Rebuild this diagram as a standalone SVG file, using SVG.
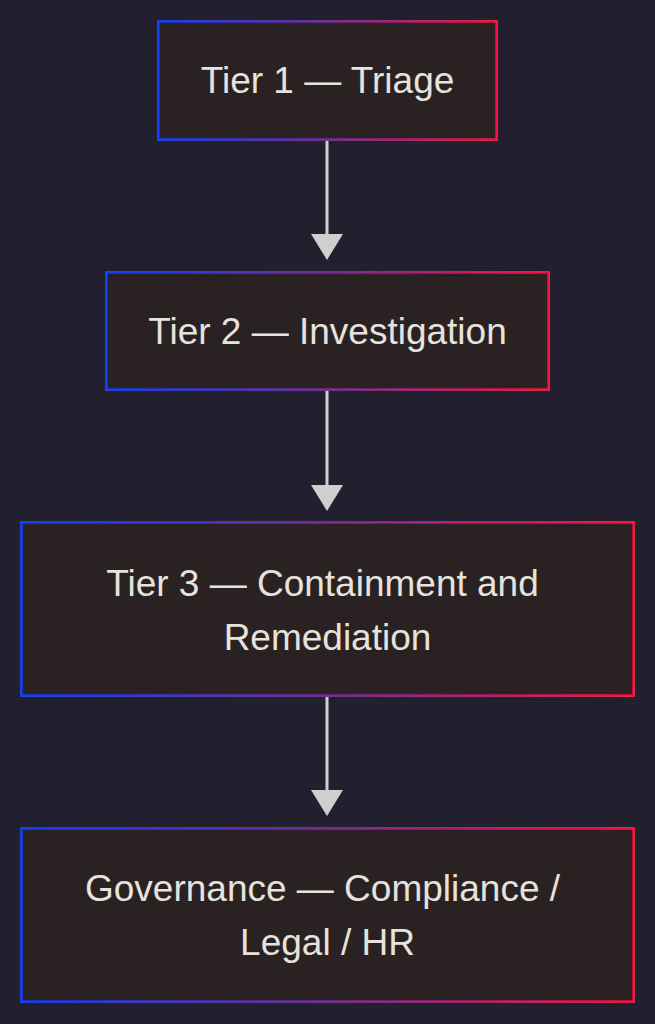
<svg xmlns="http://www.w3.org/2000/svg" width="655" height="1024" viewBox="0 0 655 1024">
<style>
.box{fill:#2b2321;stroke:url(#g);stroke-width:2.5;filter:url(#glow)}
.t{font-family:"Liberation Sans",Arial,sans-serif;font-size:37px;fill:#e6e2de;text-anchor:middle}
.edge{stroke:#cfcfcf;stroke-width:3}
.head{fill:#cfcfcf}
</style>
<defs>
<linearGradient id="g" x1="0" y1="0" x2="1" y2="0" gradientUnits="objectBoundingBox">
<stop offset="0" stop-color="#0a3cff"/>
<stop offset="0.5" stop-color="#7a2a9a"/>
<stop offset="1" stop-color="#ff0a40"/>
</linearGradient>
<filter id="glow" x="-10%" y="-20%" width="120%" height="140%">
<feGaussianBlur in="SourceAlpha" stdDeviation="4"/>
<feOffset dy="2"/>
<feComponentTransfer><feFuncA type="linear" slope="0.5"/></feComponentTransfer>
<feFlood flood-color="#555566"/>
<feComposite operator="in" in2="SourceAlpha"/>
<feMerge><feMergeNode/><feMergeNode in="SourceGraphic"/></feMerge>
</filter>
</defs>
<rect width="655" height="1024" fill="#22202e"/>
<g id="connectors">
<line class="edge" x1="327" y1="141" x2="327" y2="235"/>
<polygon class="head" points="311,234 343,234 327,260"/>
<line class="edge" x1="327" y1="391" x2="327" y2="486"/>
<polygon class="head" points="311,485 343,485 327,511"/>
<line class="edge" x1="327" y1="697" x2="327" y2="791"/>
<polygon class="head" points="311,790 343,790 327,816"/>
</g>
<g id="tier1">
<rect class="box" x="158.5" y="21.5" width="338" height="118"/>
<text class="t" x="327.5" y="93">Tier 1 — Triage</text>
</g>
<g id="tier2">
<rect class="box" x="106.5" y="272.5" width="442" height="117"/>
<text class="t" x="327.5" y="344">Tier 2 — Investigation</text>
</g>
<g id="tier3">
<rect class="box" x="21.5" y="522.5" width="612" height="173"/>
<text class="t" x="322.5" y="596">Tier 3 — Containment and</text>
<text class="t" x="327.5" y="650">Remediation</text>
</g>
<g id="governance">
<rect class="box" x="21.5" y="828.5" width="612" height="173"/>
<text class="t" x="322.5" y="901">Governance — Compliance /</text>
<text class="t" x="327.5" y="955">Legal / HR</text>
</g>
</svg>
